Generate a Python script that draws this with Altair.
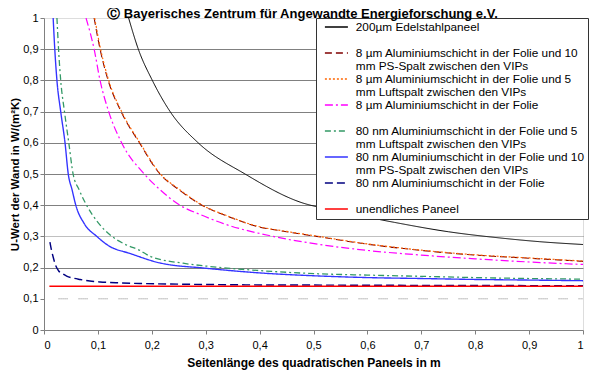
import altair as alt
import pandas as pd

# ---- data ----
# series names (first legend line of each entry)
series = [
    "200µm Edelstahlpaneel",
    "8 µm Aluminiumschicht in der Folie und 10",
    "8 µm Aluminiumschicht in der Folie und 5",
    "8 µm Aluminiumschicht in der Folie",
    "80 nm Aluminiumschicht in der Folie und 5",
    "80 nm Aluminiumschicht in der Folie und 10",
    "80 nm Aluminiumschicht in der Folie",
    "unendliches Paneel",
]
# legend rows, including wrapped continuation lines and blank spacer rows
# ('#n' suffix keeps the entries unique; it is stripped for display)
legend_rows = [
    series[0], "#b1",
    series[1], "mm PS-Spalt zwischen den VIPs#1",
    series[2], "mm Luftspalt zwischen den VIPs#1",
    series[3], "#b2",
    series[4], "mm Luftspalt zwischen den VIPs#2",
    series[5], "mm PS-Spalt zwischen den VIPs#2",
    series[6], "#b3",
    series[7],
]

black_x = [0.157, 0.175, 0.201, 0.234, 0.286, 0.373, 0.475, 0.55, 0.65, 0.75, 0.846, 0.92, 1.0]
black_y = [1.0, 0.9, 0.8, 0.7, 0.6, 0.5, 0.41, 0.38, 0.345, 0.315, 0.295, 0.283, 0.274]

darkred_x = [0.093, 0.104, 0.119, 0.143, 0.177, 0.215, 0.25, 0.293, 0.34, 0.395, 0.45, 0.506, 0.6, 0.7, 0.8, 0.9, 1.0]
darkred_y = [1.0, 0.9, 0.8, 0.7, 0.6, 0.5, 0.45, 0.4, 0.365, 0.332, 0.315, 0.3, 0.275, 0.255, 0.24, 0.23, 0.22]

orange_x = [0.094, 0.105, 0.12, 0.144, 0.178, 0.216, 0.25, 0.294, 0.34, 0.395, 0.45, 0.506, 0.6, 0.7, 0.8, 0.9, 1.0]
orange_y = [1.0, 0.9, 0.8, 0.7, 0.6, 0.5, 0.452, 0.4, 0.366, 0.333, 0.316, 0.301, 0.276, 0.256, 0.241, 0.231, 0.221]

magenta_x = [0.078, 0.093, 0.104, 0.12, 0.144, 0.186, 0.215, 0.252, 0.29, 0.333, 0.425, 0.512, 0.6, 0.7, 0.8, 0.9, 1.0]
magenta_y = [1.0, 0.9, 0.8, 0.7, 0.6, 0.5, 0.45, 0.4, 0.37, 0.341, 0.3, 0.274, 0.255, 0.24, 0.228, 0.218, 0.21]

green_x = [0.024, 0.027, 0.031, 0.038, 0.046, 0.054, 0.065, 0.079, 0.1, 0.126, 0.15, 0.178, 0.197, 0.258, 0.3, 0.395, 0.512, 0.6, 0.7, 0.8, 0.9, 1.0]
green_y = [1.0, 0.9, 0.8, 0.7, 0.6, 0.5, 0.45, 0.4, 0.345, 0.3, 0.275, 0.255, 0.236, 0.214, 0.205, 0.191, 0.18, 0.176, 0.172, 0.168, 0.165, 0.163]

blue_x = [0.017, 0.02, 0.024, 0.031, 0.039, 0.045, 0.052, 0.059, 0.075, 0.098, 0.12, 0.16, 0.215, 0.3, 0.4, 0.512, 0.6, 0.7, 0.8, 0.9, 1.0]
blue_y = [1.0, 0.9, 0.8, 0.7, 0.6, 0.5, 0.45, 0.4, 0.34, 0.3, 0.27, 0.245, 0.215, 0.198, 0.183, 0.173, 0.168, 0.165, 0.162, 0.16, 0.158]

navy_x = [0.011, 0.014, 0.017, 0.021, 0.027, 0.035, 0.042, 0.055, 0.067, 0.085, 0.104, 0.14, 0.178, 0.25, 0.35, 0.5, 0.7, 1.0]
navy_y = [0.282, 0.255, 0.234, 0.21, 0.19, 0.18, 0.173, 0.166, 0.162, 0.157, 0.154, 0.151, 0.149, 0.147, 0.145, 0.144, 0.143, 0.142]

red_x = [0.01, 1.0]
red_y = [0.14, 0.14]

ref_x = [0.027, 1.0]
ref_y = [0.1, 0.1]

x_ticks = [0, 0.1, 0.2, 0.3, 0.4, 0.5, 0.6, 0.7, 0.8, 0.9, 1.0]
y_ticks = [0, 0.1, 0.2, 0.3, 0.4, 0.5, 0.6, 0.7, 0.8, 0.9, 1.0]

# ---- styles ----
colors = ["#000000", "#800000", "#FF6600", "#FF00FF", "#339966", "#3333FF", "#000080", "#FF0000"]
dashes = [[1, 0], [7, 4], [2, 2], [8, 3, 2, 3], [6, 3, 2, 3], [1, 0], [8, 4], [1, 0]]
widths = [1, 1.5, 1.5, 1, 1.2, 1.2, 1.5, 2.5]

legend_colors = []
legend_dashes = []
for name in legend_rows:
    if name in series:
        k = series.index(name)
        legend_colors.append(colors[k])
        legend_dashes.append(dashes[k])
    else:
        legend_colors.append("transparent")
        legend_dashes.append([1, 0])

series_xy = [
    (black_x, black_y), (darkred_x, darkred_y), (orange_x, orange_y), (magenta_x, magenta_y),
    (green_x, green_y), (blue_x, blue_y), (navy_x, navy_y), (red_x, red_y),
]
rows = []
for i, (xs, ys) in enumerate(series_xy):
    for j, (xv, yv) in enumerate(zip(xs, ys)):
        rows.append({"series": series[i], "L": xv, "U": yv, "o": j})
df = pd.DataFrame(rows)
ref_df = pd.DataFrame({"L": ref_x, "U": ref_y})

FONT = "Liberation Sans"

legend = alt.Legend(
    orient="none", legendX=272, legendY=0, direction="vertical", title=None,
    labelExpr="split(datum.label, '#')[0]", labelBaseline="middle",
    labelFont=FONT, labelFontSize=11.8, labelColor="black", labelLimit=400,
    symbolType="M0,0L23,0", symbolSize=4, symbolStrokeWidth=1.5,
    strokeColor="#333333", fillColor="white", padding=3, rowPadding=-0.9,
    labelOffset=25, symbolOffset=0,
)

xscale = alt.Scale(domain=[0, 1], nice=False)
yscale = alt.Scale(domain=[0, 1], nice=False)

x_axis = alt.Axis(
    values=x_ticks, labelExpr="replace(format(datum.value, '.1~f'), '.', ',')",
    grid=False, domainColor="#808080", tickColor="#808080", tickSize=4,
    labelPadding=5, labelFont=FONT, labelFontSize=11, labelColor="black",
    title="Seitenlänge des quadratischen Paneels in m", titleFont=FONT, titleFontSize=12,
    titleFontWeight="bold", titleColor="black", titlePadding=7,
)
y_axis = alt.Axis(
    values=y_ticks, labelExpr="replace(format(datum.value, '.1~f'), '.', ',')",
    grid=True, gridColor="#808080", gridWidth=1,
    gridDash={"condition": {"test": "abs(datum.value - 0.3) < 0.01", "value": [1, 1]}, "value": []},
    gridOpacity={"condition": {"test": "datum.value < 0.15 || datum.value > 0.95", "value": 0}, "value": 1},
    domainColor="#808080", tickColor="#808080", tickSize=4,
    labelPadding=2, labelFont=FONT, labelFontSize=11, labelColor="black",
    title="U-Wert der Wand in W/(m²K)", titleFont=FONT, titleFontSize=11.5,
    titleFontWeight="bold", titleColor="black", titlePadding=2,
)

ref = alt.Chart(ref_df).mark_line(
    color="#808080", strokeWidth=1, strokeDash=[1, 1, 1, 1, 1, 1, 1, 1, 1, 11]
).encode(
    x=alt.X("L:Q", scale=xscale, axis=x_axis),
    y=alt.Y("U:Q", scale=yscale, axis=y_axis),
)

lines = alt.Chart(df).mark_line(interpolate="monotone", clip=True).encode(
    x=alt.X("L:Q", scale=xscale, axis=x_axis),
    y=alt.Y("U:Q", scale=yscale, axis=y_axis),
    color=alt.Color("series:N", scale=alt.Scale(domain=legend_rows, range=legend_colors), legend=legend),
    strokeDash=alt.StrokeDash("series:N", scale=alt.Scale(domain=legend_rows, range=legend_dashes), legend=legend),
    strokeWidth=alt.StrokeWidth("series:N", scale=alt.Scale(domain=series, range=widths), legend=None),
    order="o:Q",
)

chart = alt.layer(ref, lines).properties(
    width=539, height=312,
    autosize=alt.AutoSizeParams(type="none"),
    padding={"left": 36, "top": 10, "right": 9, "bottom": 44},
    title=alt.TitleParams(
        text="Ⓒ Bayerisches Zentrum für Angewandte Energieforschung e.V.",
        font=FONT, fontSize=13, fontWeight="bold", color="black",
        anchor="middle", dx=-11, dy=10, offset=1,
    ),
).configure_view(stroke=None).configure(background="white")

chart.save("out.html", embed_options={"renderer": "svg", "actions": False})
